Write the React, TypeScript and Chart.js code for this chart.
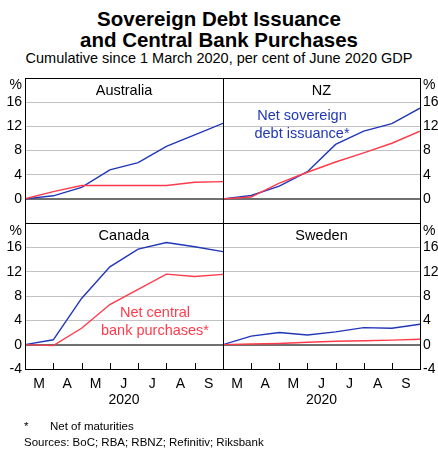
import React, { useEffect, useRef } from "react";
import { Chart, registerables } from "chart.js";

Chart.register(...registerables);

// ---- Data (cumulative, % of June 2020 GDP), points at month boundaries 1 Mar .. 30 Sep 2020
const monthLabels = ["M", "A", "M", "J", "J", "A", "S"];
const monthEnds = [0, 1, 2, 3, 4, 5, 6, 7];

const australiaDebt = [0, 0.5, 1.9, 4.8, 6.0, 8.7, 10.6, 12.5];
const australiaCB = [0, 1.2, 2.2, 2.2, 2.2, 2.2, 2.75, 2.85];

const nzDebt = [0, 0.55, 2.1, 4.5, 9.0, 11.2, 12.45, 15.0];
const nzCB = [0, 0.3, 2.6, 4.4, 6.1, 7.6, 9.2, 11.2];

const canadaDebt = [0, 0.8, 7.6, 12.8, 15.7, 16.8, 16.1, 15.3];
const canadaCB = [0, -0.15, 2.7, 6.6, 9.1, 11.6, 11.2, 11.55];

const swedenDebt = [0, 1.4, 2.0, 1.6, 2.1, 2.8, 2.7, 3.35];
const swedenCB = [0, 0.1, 0.2, 0.4, 0.55, 0.65, 0.75, 0.9];

const yMin = -4;
const yMax = 20;
const yStep = 4;

const BLUE = "#2036b8";
const RED = "#ff3b4b";
const FONT = "'Liberation Sans', Arial, sans-serif";

Chart.defaults.font.family = FONT;
Chart.defaults.color = "#000";

const framePlugin = {
  id: "frame",
  afterDatasetsDraw(chart: any) {
    const { ctx, chartArea } = chart;
    ctx.save();
    ctx.strokeStyle = "#000";
    ctx.lineWidth = 1;
    ctx.strokeRect(
      chartArea.left + 0.5,
      chartArea.top + 0.5,
      chartArea.right - chartArea.left,
      chartArea.bottom - chartArea.top
    );
    ctx.restore();
  },
};

const innerTicksPlugin = {
  id: "innerTicks",
  afterDatasetsDraw(chart: any, _args: any, opts: any) {
    if (!opts || !opts.show) return;
    const { ctx, chartArea } = chart;
    const xs = chart.scales.x;
    ctx.save();
    ctx.strokeStyle = "#000";
    ctx.lineWidth = 1;
    ctx.beginPath();
    for (const v of monthEnds) {
      const px = Math.round(xs.getPixelForValue(v)) + 0.5;
      ctx.moveTo(px, chartArea.bottom);
      ctx.lineTo(px, chartArea.bottom - 6);
    }
    ctx.stroke();
    ctx.restore();
  },
};

type PanelProps = {
  debt: number[];
  cb: number[];
  side: "left" | "right";
  bottom: boolean;
  left: number;
  top: number;
  width: number;
  height: number;
};

function Panel({ debt, cb, side, bottom, left, top, width, height }: PanelProps) {
  const ref = useRef<HTMLCanvasElement | null>(null);
  useEffect(() => {
    if (!ref.current) return;
    const toPts = (arr: number[]) => arr.map((y, i) => ({ x: monthEnds[i], y }));
    const chart = new Chart(ref.current, {
      type: "line",
      data: {
        datasets: [
          {
            data: toPts(cb),
            borderColor: RED,
            borderWidth: 1.4,
            pointRadius: 0,
            tension: 0,
          },
          {
            data: toPts(debt),
            borderColor: BLUE,
            borderWidth: 1.4,
            pointRadius: 0,
            tension: 0,
          },
        ],
      },
      options: {
        animation: false,
        responsive: false,
        devicePixelRatio: 1,
        layout: {
          padding: {
            top: 12,
            bottom: bottom ? 0 : 12,
            left: side === "left" ? 0 : 16,
            right: side === "left" ? 16 : 0,
          },
        },
        plugins: {
          legend: { display: false },
          tooltip: { enabled: false },
          innerTicks: { show: bottom },
        } as any,
        scales: {
          x: {
            type: "linear",
            min: 0,
            max: 7,
            display: bottom,
            afterFit: (s: any) => {
              s.height = bottom ? 42 : 0;
            },
            border: { display: false },
            grid: { display: false, drawTicks: false },
            ticks: {
              stepSize: 1,
              autoSkip: false,
              maxRotation: 0,
              padding: 7,
              labelOffset: 14,
              font: { size: 14 },
              color: "#000",
              callback: (v: any) => monthLabels[v as number] ?? "",
            },
            title: {
              display: true,
              text: "2020",
              font: { size: 14 },
              color: "#000",
              padding: { top: 0, bottom: 2 },
            },
          },
          y: {
            type: "linear",
            position: side,
            min: yMin,
            max: yMax,
            afterFit: (s: any) => {
              s.width = side === "left" ? 25 : 18;
            },
            border: { display: false },
            grid: {
              drawTicks: false,
              color: (c: any) => {
                const v = c.tick.value;
                if (v === yMin || v === yMax) return "rgba(0,0,0,0)";
                if (v === 0) return "#707070";
                return "#c2c2c2";
              },
              lineWidth: (c: any) => (c.tick.value === 0 ? 2 : 1),
            },
            ticks: {
              stepSize: yStep,
              autoSkip: false,
              padding: 3,
              font: { size: 14 },
              color: "#000",
              callback: (v: any) => {
                if (v === yMax) return "";
                if (v === yMin && !bottom) return "";
                return String(v);
              },
            },
          },
        },
      } as any,
      plugins: [framePlugin, innerTicksPlugin],
    });
    return () => chart.destroy();
  }, []);
  return (
    <canvas
      ref={ref}
      width={width}
      height={height}
      style={{ position: "absolute", left, top, width, height }}
    />
  );
}

const txt = (extra: React.CSSProperties): React.CSSProperties => ({
  position: "absolute",
  fontFamily: FONT,
  whiteSpace: "nowrap",
  color: "#000",
  ...extra,
});

export default function App() {
  return (
    <div
      style={{
        position: "fixed",
        left: 0,
        top: 0,
        width: 438,
        height: 451,
        background: "#fff",
        overflow: "hidden",
      }}
    >
      <div style={txt({ left: 0, width: 438, top: 9.3, textAlign: "center", fontSize: 20.5, lineHeight: "20.5px", fontWeight: "bold" })}>
        Sovereign Debt Issuance
      </div>
      <div style={txt({ left: 0, width: 438, top: 30, textAlign: "center", fontSize: 20.5, lineHeight: "20.5px", fontWeight: "bold" })}>
        and Central Bank Purchases
      </div>
      <div style={txt({ left: 0, width: 438, top: 51, textAlign: "center", fontSize: 14.5, lineHeight: "14.5px" })}>
        Cumulative since 1 March 2020, per cent of June 2020 GDP
      </div>

      <Panel debt={australiaDebt} cb={australiaCB} side="left" bottom={false} left={0} top={66} width={239} height={169} />
      <Panel debt={nzDebt} cb={nzCB} side="right" bottom={false} left={207} top={66} width={231} height={169} />
      <Panel debt={canadaDebt} cb={canadaCB} side="left" bottom={true} left={0} top={211} width={239} height={200} />
      <Panel debt={swedenDebt} cb={swedenCB} side="right" bottom={true} left={207} top={211} width={231} height={200} />

      {/* unit labels */}
      <div style={txt({ left: 0, width: 22, top: 76.5, textAlign: "right", fontSize: 14, lineHeight: "14px" })}>%</div>
      <div style={txt({ left: 423, top: 76.5, fontSize: 14, lineHeight: "14px" })}>%</div>
      <div style={txt({ left: 0, width: 22, top: 223, textAlign: "right", fontSize: 14, lineHeight: "14px" })}>%</div>
      <div style={txt({ left: 423, top: 223, fontSize: 14, lineHeight: "14px" })}>%</div>

      {/* panel titles */}
      <div style={txt({ left: 25, width: 198, top: 83.4, textAlign: "center", fontSize: 14.5, lineHeight: "14.5px" })}>Australia</div>
      <div style={txt({ left: 223, width: 197, top: 83.4, textAlign: "center", fontSize: 14.5, lineHeight: "14.5px" })}>NZ</div>
      <div style={txt({ left: 25, width: 198, top: 228.4, textAlign: "center", fontSize: 14.5, lineHeight: "14.5px" })}>Canada</div>
      <div style={txt({ left: 223, width: 197, top: 228.4, textAlign: "center", fontSize: 14.5, lineHeight: "14.5px" })}>Sweden</div>

      {/* series annotations */}
      <div style={txt({ left: 242, width: 120, top: 105.8, textAlign: "center", fontSize: 14.5, lineHeight: "18.3px", color: BLUE })}>
        Net sovereign
        <br />
        debt issuance*
      </div>
      <div style={txt({ left: 95, width: 120, top: 303.1, textAlign: "center", fontSize: 14.5, lineHeight: "18.3px", color: RED })}>
        Net central
        <br />
        bank purchases*
      </div>

      {/* footnotes */}
      <div style={txt({ left: 24, top: 421.3, fontSize: 11.5, lineHeight: "11.5px" })}>*</div>
      <div style={txt({ left: 50, top: 421.3, fontSize: 11.5, lineHeight: "11.5px" })}>Net of maturities</div>
      <div style={txt({ left: 24, top: 437, fontSize: 11.5, lineHeight: "11.5px" })}>Sources: BoC; RBA; RBNZ; Refinitiv; Riksbank</div>
    </div>
  );
}
